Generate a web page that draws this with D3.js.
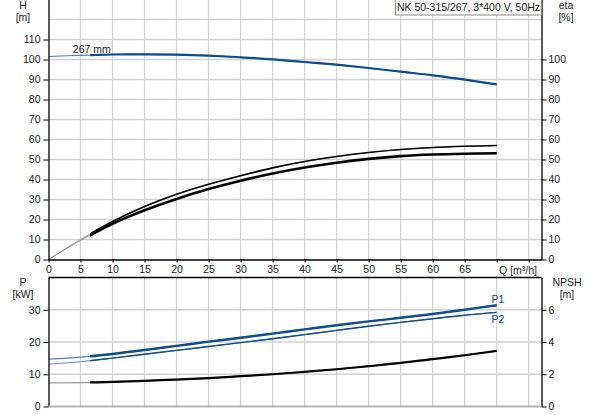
<!DOCTYPE html>
<html>
<head>
<meta charset="utf-8">
<script src="https://cdn.jsdelivr.net/npm/d3@7"></script>
<style>
  body { margin: 0; background: #fff; }
  svg { font-family: "Liberation Sans", Arial, sans-serif; }
</style>
</head>
<body>
<div id="chart"></div>
<script>
// flow points (m3/h)
const flow = [0, 5, 10, 15, 20, 25, 30, 35, 40, 45, 50, 55, 60, 65, 70];
// head curve, 267 mm impeller
const head = [101.5, 102.1, 102.5, 102.6, 102.4, 101.9, 101.1, 100.1, 98.75, 97.4, 95.75, 93.9, 92.1, 89.9, 87.6];
// efficiency curves (%)
const etaUpper = [0, 10, 19.0, 26.5, 32.6, 37.6, 41.9, 45.8, 49.0, 51.5, 53.5, 55.0, 56.0, 56.6, 57.0];
const etaLower = [0, 9.5, 17.9, 24.6, 30.3, 35.2, 39.4, 43.0, 46.0, 48.4, 50.3, 51.7, 52.5, 52.9, 53.1];
// power (kW)
const p1 = [14.7, 15.3, 16.3, 17.5, 18.8, 20.1, 21.3, 22.6, 23.9, 25.2, 26.4, 27.5, 28.7, 30.0, 31.4];
const p2 = [13.1, 13.9, 15.0, 16.2, 17.4, 18.6, 19.8, 21.0, 22.3, 23.6, 24.9, 26.1, 27.2, 28.3, 29.2];
// NPSH (m)
const npsh = [1.47, 1.48, 1.53, 1.59, 1.67, 1.76, 1.88, 2.0, 2.15, 2.31, 2.5, 2.7, 2.94, 3.18, 3.45];
const minFlow = 6.5;

const xTicks = d3.range(0, 80, 5);
const hTicks = d3.range(0, 120, 10);
const etaTicks = d3.range(0, 110, 10);
const pTicks = [0, 10, 20, 30];
const npshTicks = [0, 2, 4, 6];
const title = "NK 50-315/267, 3*400 V, 50Hz";

const W = 593, H = 415;
const blue = "#0f4c8a";
const grid = "#d2d2d2";

const svg = d3.select("#chart").append("svg")
  .attr("width", W).attr("height", H);

const x = d3.scaleLinear().domain([0, 77]).range([48.5, 541.5]);
const yH = d3.scaleLinear().domain([0, 130]).range([259.5, -0.5]);
const yEta = d3.scaleLinear().domain([0, 130]).range([259.5, -0.5]);
const yP = d3.scaleLinear().domain([0, 40]).range([406.5, 277.5]);
const yN = d3.scaleLinear().domain([0, 8]).range([406.5, 277.5]);

// clip for the part right of min flow
const defs = svg.append("defs");
defs.append("clipPath").attr("id", "work")
  .append("rect")
  .attr("x", x(minFlow)).attr("y", 0)
  .attr("width", x.range()[1] - x(minFlow)).attr("height", H);

function styleAxis(g) {
  g.selectAll("text").attr("fill", "#1c1c1c").style("font-size", "10.5px");
  g.selectAll("line").attr("stroke", "#000");
  g.select(".domain").attr("stroke", "#000").attr("stroke-width", 1.3);
}

// ---------- gridlines ----------
const gridX = xTicks.filter(d => d > 0);
svg.append("g").selectAll("line").data(gridX).join("line")
  .attr("x1", d => x(d)).attr("x2", d => x(d))
  .attr("y1", yH.range()[1]).attr("y2", yH.range()[0])
  .attr("stroke", grid).attr("stroke-width", 1.3);
svg.append("g").selectAll("line").data(gridX).join("line")
  .attr("x1", d => x(d)).attr("x2", d => x(d))
  .attr("y1", yP.range()[1]).attr("y2", yP.range()[0])
  .attr("stroke", grid).attr("stroke-width", 1.3);
svg.append("g").selectAll("line").data(d3.range(10, 130, 10)).join("line")
  .attr("x1", x.range()[0]).attr("x2", x.range()[1])
  .attr("y1", d => yH(d)).attr("y2", d => yH(d))
  .attr("stroke", grid).attr("stroke-width", 1.3);
svg.append("g").selectAll("line").data([10, 20, 30]).join("line")
  .attr("x1", x.range()[0]).attr("x2", x.range()[1])
  .attr("y1", d => yP(d)).attr("y2", d => yP(d))
  .attr("stroke", grid).attr("stroke-width", 1.3);

// ---------- curves ----------
function drawCurve(values, yScale, color, width, faint, faintWidth) {
  const pts = flow.map((q, i) => [q, values[i]]);
  const line = d3.line()
    .x(d => x(d[0])).y(d => yScale(d[1]))
    .curve(d3.curveCatmullRom.alpha(0.5));
  svg.append("path").datum(pts)
    .attr("fill", "none").attr("stroke", faint)
    .attr("stroke-width", faintWidth).attr("d", line);
  svg.append("path").datum(pts)
    .attr("clip-path", "url(#work)")
    .attr("fill", "none").attr("stroke", color)
    .attr("stroke-width", width).attr("d", line);
}

drawCurve(head, yH, blue, 2.2, "#5a80b0", 1.2);
drawCurve(etaUpper, yEta, "#000", 1.6, "#999", 1);
drawCurve(etaLower, yEta, "#000", 2.6, "#999", 1);
drawCurve(p1, yP, blue, 2.4, "#5a80b0", 1.3);
drawCurve(p2, yP, blue, 1.4, "#5a80b0", 1);
drawCurve(npsh, yN, "#000", 2.2, "#999", 1.3);

// ---------- axes ----------
svg.append("g").attr("transform", `translate(${x.range()[0]},0)`)
  .call(d3.axisLeft(yH).tickValues(hTicks).tickSize(5).tickPadding(3).tickSizeOuter(0))
  .call(styleAxis);
svg.append("g").attr("transform", `translate(${x.range()[1]},0)`)
  .call(d3.axisRight(yEta).tickValues(etaTicks).tickSize(5).tickPadding(2).tickSizeOuter(0))
  .call(styleAxis);
svg.append("g").attr("transform", `translate(0,${yH.range()[0]})`)
  .call(d3.axisBottom(x).tickValues(xTicks).tickSize(3).tickPadding(3).tickSizeOuter(0)
    .tickFormat(d => d <= 65 ? d : ""))
  .call(styleAxis);

svg.append("g").attr("transform", `translate(${x.range()[0]},0)`)
  .call(d3.axisLeft(yP).tickValues(pTicks).tickSize(5).tickPadding(3).tickSizeOuter(0))
  .call(styleAxis);
svg.append("g").attr("transform", `translate(${x.range()[1]},0)`)
  .call(d3.axisRight(yN).tickValues(npshTicks).tickSize(5).tickPadding(2).tickSizeOuter(0))
  .call(styleAxis);
// top border of lower chart
svg.append("line")
  .attr("x1", x.range()[0]).attr("x2", x.range()[1])
  .attr("y1", yP.range()[1]).attr("y2", yP.range()[1])
  .attr("stroke", "#000").attr("stroke-width", 1.3);
// bottom border of lower chart
svg.append("line")
  .attr("x1", x.range()[0]).attr("x2", x.range()[1])
  .attr("y1", yP.range()[0]).attr("y2", yP.range()[0])
  .attr("stroke", "#b5b5b5").attr("stroke-width", 2);

// ---------- labels ----------
const lab = (txt, px, py, anchor, color) => svg.append("text")
  .attr("x", px).attr("y", py).attr("text-anchor", anchor || "middle")
  .attr("fill", color || "#1c1c1c").style("font-size", "10.5px").text(txt);

lab("H", 23, 9);
lab("[m]", 23, 21);
lab("eta", 566, 9);
lab("[%]", 566, 21);
lab("P", 23, 286);
lab("[kW]", 23, 298);
lab("NPSH", 567, 286);
lab("[m]", 567, 298);
lab("Q [m\u00b3/h]", 537, yH.range()[0] + 14.5, "end");

lab("267 mm", x(3.8), yH(head[0]) - 4, "start");
lab("P1", x(69.2), yP(p1[p1.length - 1]) - 2, "start", blue);
lab("P2", x(69.2), yP(p2[p2.length - 1]) + 11, "start", blue);

// title box
const tb = svg.append("g");
tb.append("rect")
  .attr("x", 395.5).attr("y", -0.5).attr("width", 146).attr("height", 15.5)
  .attr("fill", "#fff").attr("stroke", "#8a8a8a");
tb.append("text")
  .attr("x", 468.5).attr("y", 11).attr("text-anchor", "middle")
  .attr("fill", "#1c1c1c").style("font-size", "10.5px").text(title);
</script>
</body>
</html>
